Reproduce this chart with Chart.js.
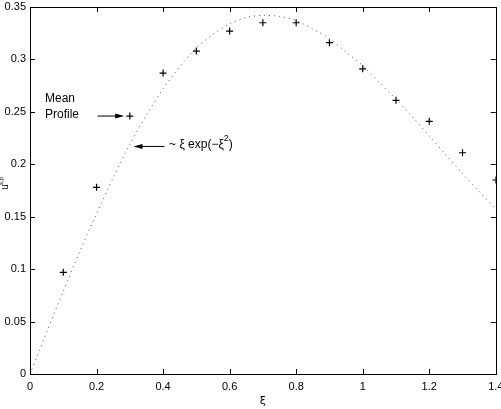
<!DOCTYPE html>
<html>
<head>
<meta charset="utf-8">
<script src="https://cdn.jsdelivr.net/npm/chart.js@4"></script>
<style>
  html, body { margin: 0; padding: 0; background: #fff; }
  canvas { display: block; }
</style>
</head>
<body>
<canvas id="profile-chart" width="501" height="409"></canvas>
<script>
// measured mean profile (the "+" markers)
const xi = [0.1, 0.2, 0.3, 0.4, 0.5, 0.6, 0.7, 0.8, 0.9, 1.0, 1.1, 1.2, 1.3, 1.4];
const meanProfile = [0.097, 0.178, 0.246, 0.287, 0.308, 0.327, 0.335, 0.335, 0.316, 0.291, 0.261, 0.241, 0.211, 0.185];

// dotted curve ~ xi exp(-xi^2)
const curveXi = [0, 0.05, 0.1, 0.15, 0.2, 0.25, 0.3, 0.35, 0.4, 0.45, 0.5, 0.55, 0.6, 0.65, 0.7,
  0.75, 0.8, 0.85, 0.9, 0.95, 1.0, 1.05, 1.1, 1.15, 1.2, 1.25, 1.3, 1.35, 1.4];
const curveVals = [0, 0.040, 0.079, 0.117, 0.153, 0.187, 0.219, 0.247, 0.272, 0.293, 0.311, 0.324,
  0.334, 0.340, 0.342, 0.341, 0.337, 0.329, 0.320, 0.307, 0.294, 0.278, 0.262, 0.245, 0.227,
  0.209, 0.191, 0.174, 0.157];

const xTickLabels = ["0", "0.2", "0.4", "0.6", "0.8", "1", "1.2", "1.4"];
const yTickLabels = ["0", "0.05", "0.1", "0.15", "0.2", "0.25", "0.3", "0.35"];

const FONT = "'Liberation Sans', Arial, sans-serif";

function arrow(ctx, x1, y1, x2, y2) {
  // line from (x1,y1) to tip at (x2,y2), filled head
  const dir = Math.sign(x2 - x1);
  ctx.beginPath();
  ctx.moveTo(x1, y1);
  ctx.lineTo(x2 - dir * 6, y2);
  ctx.stroke();
  ctx.beginPath();
  ctx.moveTo(x2, y2);
  ctx.lineTo(x2 - dir * 9, y2 - 2.5);
  ctx.lineTo(x2 - dir * 9, y2 + 2.5);
  ctx.closePath();
  ctx.fill();
}

const boxAndNotes = {
  id: "boxAndNotes",
  afterDraw(chart) {
    const ctx = chart.ctx;
    const a = chart.chartArea;
    const xs = chart.scales.x, ys = chart.scales.y;
    ctx.save();
    ctx.strokeStyle = "#000";
    ctx.fillStyle = "#000";
    ctx.lineWidth = 1;

    // frame
    ctx.strokeRect(Math.round(a.left) + 0.5, Math.round(a.top) + 0.5,
      Math.round(a.right - a.left), Math.round(a.bottom - a.top));

    // inward ticks on all sides
    ctx.beginPath();
    xs.ticks.forEach(t => {
      const px = Math.round(xs.getPixelForValue(t.value)) + 0.5;
      ctx.moveTo(px, a.bottom); ctx.lineTo(px, a.bottom - 5);
      ctx.moveTo(px, a.top); ctx.lineTo(px, a.top + 5);
    });
    ys.ticks.forEach(t => {
      const py = Math.round(ys.getPixelForValue(t.value)) + 0.5;
      ctx.moveTo(a.left, py); ctx.lineTo(a.left + 5, py);
      ctx.moveTo(a.right, py); ctx.lineTo(a.right - 5, py);
    });
    ctx.stroke();

    // notes
    ctx.font = "12px " + FONT;
    ctx.textBaseline = "middle";
    ctx.textAlign = "left";
    ctx.fillText("Mean", 45, 99);
    ctx.fillText("Profile", 45, 115);
    const yMean = ys.getPixelForValue(0.246);
    arrow(ctx, xs.getPixelForValue(0.203), yMean, xs.getPixelForValue(0.283), yMean);

    const yCurve = ys.getPixelForValue(0.217);
    arrow(ctx, xs.getPixelForValue(0.404), yCurve, xs.getPixelForValue(0.311), yCurve);
    let tx = xs.getPixelForValue(0.418);
    const base = "~ \u03be exp(\u2212\u03be";
    ctx.fillText(base, tx, yCurve - 2);
    tx += ctx.measureText(base).width;
    ctx.font = "9px " + FONT;
    ctx.fillText("2", tx, yCurve - 8);
    tx += ctx.measureText("2").width;
    ctx.font = "12px " + FONT;
    ctx.fillText(")", tx, yCurve - 2);

    // axis titles
    ctx.font = "11px 'DejaVu Sans', sans-serif";
    ctx.textAlign = "center";
    ctx.fillText("\u03be", (a.left + a.right) / 2, 401);
    ctx.translate(5, 187);
    ctx.rotate(-Math.PI / 2);
    ctx.font = "10px " + FONT;
    ctx.fillText("u", 0, 0);
    ctx.font = "6px " + FONT;
    ctx.fillText("s,p", 6, -4);
    ctx.restore();
  }
};

new Chart(document.getElementById("profile-chart"), {
  type: "scatter",
  data: {
    datasets: [
      {
        label: "~ xi exp(-xi^2)",
        data: curveXi.map((x, i) => ({ x: x, y: curveVals[i] })),
        showLine: true,
        borderColor: "#555",
        borderWidth: 1,
        borderDash: [1, 4],
        pointRadius: 0,
        tension: 0.3
      },
      {
        label: "Mean Profile",
        data: xi.map((x, i) => ({ x: x, y: meanProfile[i] })),
        pointStyle: "cross",
        pointRadius: 3.5,
        pointBorderWidth: 1.2,
        borderColor: "#000",
        backgroundColor: "#000"
      }
    ]
  },
  options: {
    responsive: false,
    animation: false,
    devicePixelRatio: 1,
    layout: { padding: { top: 7, right: 4, left: 0, bottom: 0 } },
    plugins: { legend: { display: false }, tooltip: { enabled: false } },
    scales: {
      x: {
        type: "linear",
        min: 0,
        max: 1.4,
        grid: { display: false, drawTicks: false },
        border: { display: false },
        ticks: {
          stepSize: 0.2,
          padding: 6,
          color: "#000",
          maxRotation: 0,
          font: { family: FONT, size: 11 },
          callback: (v, i) => xTickLabels[i]
        },
        afterFit(scale) {
          scale.height = 35;
          scale.paddingLeft = 0;
          scale.paddingRight = 0;
        }
      },
      y: {
        type: "linear",
        min: 0,
        max: 0.35,
        grid: { display: false, drawTicks: false },
        border: { display: false },
        ticks: {
          stepSize: 0.05,
          padding: 4,
          color: "#000",
          font: { family: FONT, size: 11 },
          callback: (v, i) => yTickLabels[i]
        },
        afterFit(scale) {
          scale.width = 30;
          scale.paddingTop = 0;
          scale.paddingBottom = 0;
        }
      }
    }
  },
  plugins: [boxAndNotes]
});
</script>
</body>
</html>
